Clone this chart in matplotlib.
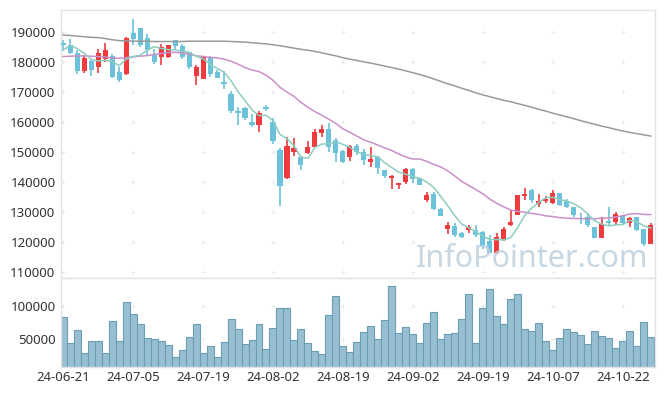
import numpy as np
import pandas as pd
import matplotlib
matplotlib.use('Agg')
import matplotlib.pyplot as plt

# === Данные (OHLC, объём, скользящие средние) ===
opens = [186400, 185600, 183000, 177100, 180300, 178300, 181000, 182000, 176700, 176100,
         189700, 191300, 188000, 182600, 181700, 181700, 187300, 185400, 183200, 175300,
         174400, 181600, 176700, 173400, 169300, 163700, 164600, 160100, 159100, 165000,
         160100, 150700, 141400, 150100, 148400, 149600, 151800, 156400, 157700, 154000,
         150300, 148200, 152000, 150100, 146600, 148200, 144000, 141400, 139000, 139900,
         144300, 141200, 134100, 136000, 131000, 124200, 125300, 122900, 123900, 124000,
         123400, 120300, 116200, 121000, 125700, 129000, 135400, 137300, 132700, 133800,
         132900, 136200, 133800, 131600, 128100, 128400, 124900, 121200, 127100, 126600,
         128700, 126200, 128200, 124200, 119300]
highs = [187200, 187800, 183900, 182200, 181100, 184200, 186300, 182800, 178300, 188300,
         194400, 191300, 189400, 184200, 185900, 185700, 187300, 186100, 183400, 178900,
         182000, 182000, 177300, 177100, 170400, 164900, 164900, 162700, 163600, 165600,
         161200, 151200, 154900, 154600, 148700, 153700, 157700, 159000, 159600, 154800,
         150700, 152300, 152600, 150900, 151800, 148800, 144000, 142300, 139700, 144600,
         144600, 141400, 136600, 136800, 131200, 126600, 126200, 123200, 125700, 125700,
         123700, 122300, 122900, 125100, 130700, 135700, 137900, 137600, 135900, 135300,
         137300, 136200, 134200, 131800, 129800, 129800, 124900, 128400, 131800, 130100,
         129000, 128400, 128200, 124200, 126300]
lows = [183600, 182500, 176100, 176200, 175200, 176400, 180100, 174800, 173300, 175600,
        185600, 185000, 182200, 179200, 179100, 181300, 184200, 180900, 177800, 172200,
        174200, 174900, 174600, 170900, 163100, 159000, 160700, 158200, 156600, 163700,
        152600, 132100, 140900, 148700, 144000, 149300, 151600, 154900, 150100, 146600,
        146200, 147100, 149000, 145700, 145100, 142600, 141400, 137700, 137700, 139400,
        139600, 139000, 133200, 130600, 128700, 122600, 121800, 121200, 122900, 121600,
        117700, 116200, 116000, 120400, 125300, 129000, 134000, 132900, 131600, 133100,
        132700, 132000, 131200, 128200, 126000, 125100, 121200, 121200, 125700, 125700,
        125700, 124900, 123800, 118700, 119300]
closes = [185800, 182900, 177000, 181300, 177400, 183000, 184100, 175100, 174100, 188000,
          187800, 185800, 183900, 180000, 185000, 185700, 185400, 181700, 178400, 178300,
          181600, 176000, 174700, 172600, 163800, 163100, 161400, 159100, 163100, 164400,
          153800, 138800, 152000, 151200, 145800, 151800, 156700, 157600, 151800, 149600,
          146800, 152000, 149900, 147300, 147700, 144800, 142100, 142000, 139700, 144300,
          140900, 139000, 135700, 131000, 128800, 125700, 122300, 121800, 124900, 122300,
          118800, 116200, 121800, 124200, 126700, 135700, 136100, 134000, 133700, 134400,
          136200, 132300, 131800, 129000, 127600, 125700, 121200, 126000, 126400, 129300,
          126200, 128100, 124000, 119300, 125600]
volumes = [82800, 43400, 63100, 28300, 46500, 46500, 28300, 76800, 46500, 105600,
           87400, 72200, 51000, 49500, 46500, 40400, 22200, 32800, 52500, 72200,
           28300, 38900, 22200, 44900, 79800, 64600, 41900, 48000, 72200, 34300,
           66200, 96500, 96500, 48000, 64600, 43400, 31300, 26800, 85900, 114600,
           39400, 30300, 45500, 60100, 69200, 50000, 78800, 130300, 58600, 67700,
           57100, 43400, 73700, 90400, 50000, 57100, 58600, 80300, 117700, 43400,
           96500, 125300, 84300, 72200, 110100, 117700, 64600, 61600, 73700, 46500,
           32800, 51000, 64600, 60100, 55600, 41900, 61600, 54000, 51000, 35900,
           46500, 61600, 38900, 75300, 52500]
ma5 = [184000, 185500, 184500, 182900, 180880, 180320, 180560, 180180, 178740, 180860,
       181820, 182160, 183920, 185100, 184500, 184080, 184000, 183560, 183240, 181900,
       181080, 179200, 177800, 176640, 173740, 170040, 167120, 164000, 162100, 162220,
       160360, 155840, 154420, 152040, 148320, 147920, 151500, 152620, 152740, 153500,
       152500, 151560, 150020, 149120, 148740, 148340, 146360, 144780, 143260, 142580,
       141800, 141180, 139920, 138180, 135080, 132040, 128700, 125920, 124700, 123400,
       122020, 120800, 120800, 120660, 121540, 124920, 128900, 131340, 133240, 134780,
       134880, 134120, 133680, 132740, 131380, 129280, 127060, 125900, 125380, 125720,
       125820, 127200, 126800, 125380, 124640]
ma20 = [181800, 181900, 182000, 182000, 181900, 181800, 181600, 181300, 181200, 181400,
        181700, 181900, 182100, 182500, 182800, 183100, 183200, 183000, 182600, 182040,
        181830, 181480, 181370, 180930, 180250, 179260, 178120, 177320, 176770, 175590,
        173890, 171540, 169950, 168510, 166550, 164850, 163420, 162210, 160880, 159450,
        157710, 156510, 155270, 154000, 153200, 152280, 151320, 150460, 149290, 148290,
        147640, 147650, 146840, 145830, 144980, 143670, 141950, 140160, 138820, 137450,
        136050, 134260, 132860, 131700, 130650, 130200, 129900, 129500, 129200, 128700,
        128470, 128130, 127940, 127840, 127780, 127780, 127720, 127930, 128010, 128360,
        128730, 129320, 129430, 129190, 129130]
ma120 = [189000, 188800, 188600, 188400, 188200, 188100, 187800, 187400, 187100, 187000,
         186900, 186900, 186900, 186800, 186800, 186800, 186800, 186800, 186900, 186900,
         186900, 186900, 186900, 186900, 186800, 186700, 186600, 186400, 186200, 186000,
         185700, 185400, 185000, 184600, 184200, 183900, 183500, 183000, 182500, 182000,
         181400, 180900, 180500, 180000, 179600, 179100, 178600, 178100, 177600, 177000,
         176400, 175800, 175100, 174300, 173500, 172700, 172000, 171200, 170500, 169700,
         169000, 168400, 167800, 167200, 166700, 166100, 165500, 164900, 164200, 163600,
         162900, 162300, 161700, 161100, 160400, 159800, 159200, 158600, 158100, 157500,
         157000, 156500, 156100, 155700, 155300]
tick_labels = ['24-06-21', '24-07-05', '24-07-19', '24-08-02', '24-08-19',
               '24-09-02', '24-09-19', '24-10-07', '24-10-22']

plt.rcParams['font.family'] = ['Noto Sans', 'DejaVu Sans']

o = np.array(opens)
c = np.array(closes)
x = np.arange(len(closes))
up = c >= o
col = np.where(up, '#ef3b3e', '#6cc2da')

fig = plt.figure(figsize=(6.65, 3.96), dpi=100)
ax = fig.add_axes([61 / 665, 1 - 278 / 396, 594 / 665, 268 / 396])
axv = fig.add_axes([61 / 665, 1 - 367 / 396, 594 / 665, 89 / 396], sharex=ax)

# === Свечи ===
ax.vlines(x, lows, highs, color=col, lw=1.2, zorder=2)
ax.bar(x, np.maximum(np.abs(c - o), 350), bottom=np.minimum(o, c), width=0.72,
       color=col, zorder=3)

# === Скользящие средние ===
ax.plot(x, ma120, color='#9a9a9a', lw=1.1, zorder=4)
ax.plot(x, ma20, color='#c98fc9', lw=1.1, zorder=4)
ax.plot(x, ma5, color='#8ccdc0', lw=1.1, zorder=4)

# === Объём ===
axv.bar(x, volumes, width=1.0, color='#97bfd1', edgecolor='#6b9db4', lw=0.8, zorder=2)

ax.set_xlim(-0.3, 84.6)
ax.set_ylim(108000, 197300)
axv.set_ylim(7600, 142400)

ticks = np.arange(0, len(closes), 10)
ax.set_yticks(np.arange(110000, 190001, 10000))
axv.set_yticks([50000, 100000])
axv.set_xticks(ticks)
axv.set_xticklabels(tick_labels)
ax.tick_params(axis='x', labelbottom=False)

for a in (ax, axv):
    a.tick_params(length=0, labelsize=9.5, labelcolor='#333333', pad=4)
    for s in a.spines.values():
        s.set_color('#e2e2e2')
        s.set_linewidth(1.0)
    gx, gy = np.meshgrid(ticks, a.get_yticks())
    a.scatter(gx.ravel(), gy.ravel(), marker='+', s=10, c='#e6e6e6', lw=0.6, zorder=1)
axv.tick_params(axis='x', pad=3)

# водяной знак
ax.text(0.988, 0.041, 'InfoPointer.com', transform=ax.transAxes, ha='right',
        va='baseline', fontsize=22, fontweight='medium', color='#bcd0de', alpha=0.85,
        zorder=5)

fig.savefig('out.png', dpi=100)
